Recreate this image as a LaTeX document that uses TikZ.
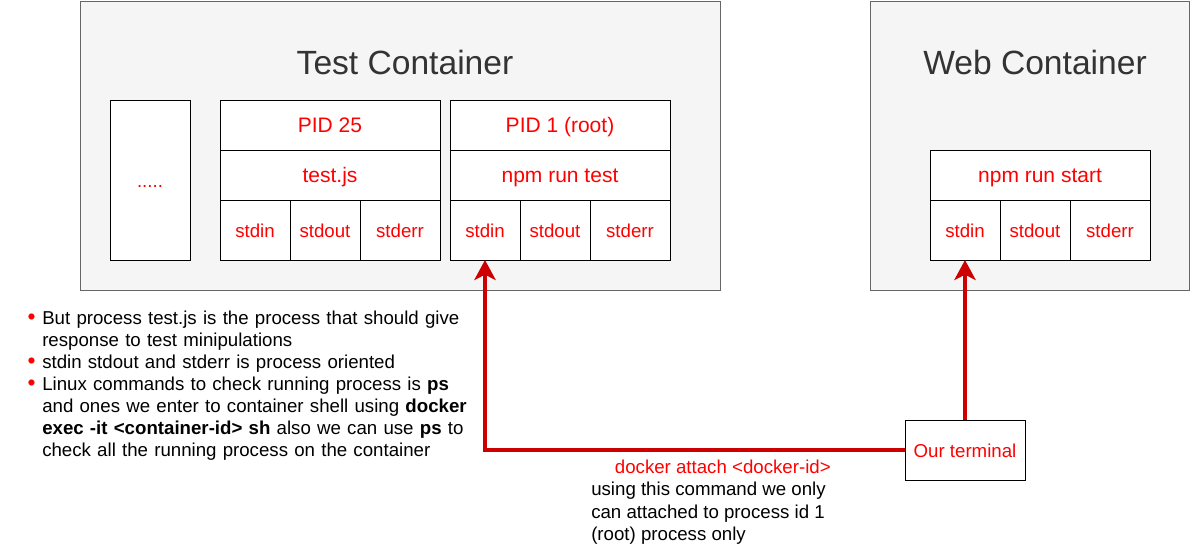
\documentclass[tikz,border=0pt]{standalone}
\usepackage{fontspec}
\setmainfont{Liberation Sans}
\usetikzlibrary{positioning,arrows.meta}
\definecolor{boxgray}{HTML}{F5F5F5}
\definecolor{edgegray}{HTML}{666666}
\definecolor{titlegray}{HTML}{333333}
\definecolor{arrowred}{HTML}{CC0000}
\definecolor{textred}{HTML}{FF0000}
\newcommand\bigfont{\fontsize{25.2}{29}\selectfont}
\newcommand\rowfont{\fontsize{15.75}{19}\selectfont}
\newcommand\smallfont{\fontsize{14}{16.5}\selectfont}
\newcommand\redbullet{\textcolor{textred}{\raisebox{-0.3pt}{\fontsize{17}{17}\selectfont\textbullet}}}
\tikzset{
  container/.style={draw=edgegray, fill=boxgray, line width=0.75pt, inner sep=0pt, outer sep=0pt},
  title/.style={text=titlegray, font=\bigfont},
  cell/.style={draw=black, fill=white, line width=0.75pt, text=textred, font=\rowfont,
    inner sep=0pt, outer sep=0pt, minimum width=165pt, minimum height=37.5pt,
    text height=1.05em, text depth=0pt},
  io/.style={cell, font=\smallfont, minimum width=52.5pt, minimum height=45pt, text height=1.1em},
  link/.style={draw=arrowred, line width=3pt, -{Stealth[length=15pt,width=16pt,inset=4pt]}}
}
\begin{document}
\begin{tikzpicture}[x=0.75pt, y=-0.75pt, line join=miter]
\useasboundingbox (0,0) rectangle (1191,546);
% containers
\node[container, minimum width=480pt, minimum height=216.75pt] (testbox) at (400,145.5) {};
\node[container, minimum width=239.5pt, minimum height=216.75pt] (webbox) at (1030,145.5) {};
\node[title] (testtitle) at (405,62) {Test Container};
\node[title] (webtitle) at (1035,62) {Web Container};

% test container processes
\node[io, minimum width=60pt, minimum height=120pt] (others) at (150,180) {.....};

\node[cell] (pid25) at (330,125) {PID 25};
\node[cell, below=0pt of pid25] (testjs) {test.js};
\node[io, below right=0pt of testjs.south west] (in1) {stdin};
\node[io, right=0pt of in1] (out1) {stdout};
\node[io, right=0pt of out1, minimum width=60pt] (err1) {stderr};

\node[cell] (pid1) at (560,125) {PID 1 (root)};
\node[cell, below=0pt of pid1] (npmtest) {npm run test};
\node[io, below right=0pt of npmtest.south west] (in2) {stdin};
\node[io, right=0pt of in2] (out2) {stdout};
\node[io, right=0pt of out2, minimum width=60pt] (err2) {stderr};

% web container process
\node[cell] (npmstart) at (1040,175) {npm run start};
\node[io, below right=0pt of npmstart.south west] (in3) {stdin};
\node[io, right=0pt of in3] (out3) {stdout};
\node[io, right=0pt of out3, minimum width=60pt] (err3) {stderr};

% terminal and connectors
\node[io, minimum width=90pt, minimum height=45pt] (term) at (965,450) {Our terminal};
\draw[link] (term.west) -| (in2.south);
\draw[link] (term.north) -- (in3.south);

\node[text=textred, font=\smallfont, anchor=east, inner sep=0pt] (attachcmd) at (831,467) {docker attach <docker-id>};
\node[font=\fontsize{14}{16.9}\selectfont, align=left, anchor=north west, inner sep=0pt] (attachnote) at (591,482)
  {using this command we only\\can attached to process id 1\\(root) process only};

% notes
\node[font=\smallfont, text width=360pt, anchor=north west, inner sep=0pt] (notes) at (20,302) {%
  \begin{list}{\redbullet}{\leftmargin=16.5pt\labelwidth=8pt\labelsep=5pt
    \itemsep=0pt\topsep=0pt\parsep=0pt\partopsep=0pt}
  \item But process test.js is the process that should give\\response to test minipulations
  \item stdin stdout and stderr is process oriented
  \item Linux commands to check running process is \textbf{ps}\\and ones we enter to container shell using \textbf{docker}\\\textbf{exec -it <container-id> sh} also we can use \textbf{ps} to\\check all the running process on the container
  \end{list}};
\end{tikzpicture}
\end{document}
